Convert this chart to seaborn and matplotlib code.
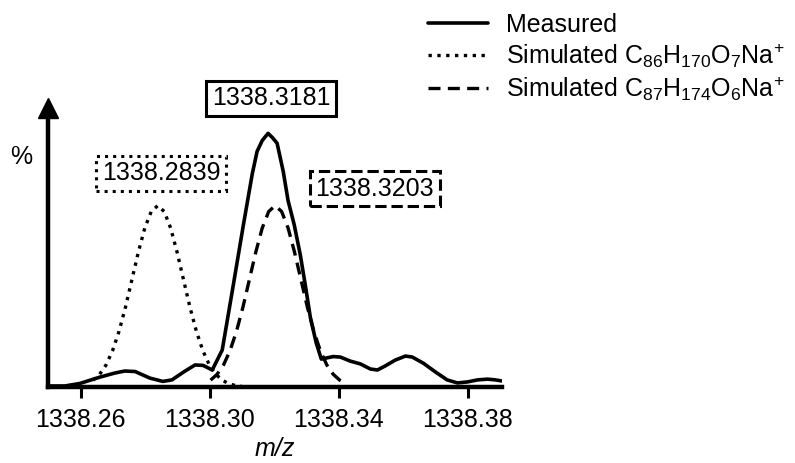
import matplotlib
matplotlib.use("Agg")
import matplotlib.pyplot as plt
import seaborn as sns

# Measured spectrum (m/z, relative intensity %)
measured_mz = [1338.2499, 1338.2551, 1338.2598, 1338.2660, 1338.2706, 1338.2737,
               1338.2769, 1338.2815, 1338.2855, 1338.2883, 1338.2924, 1338.2955,
               1338.2980, 1338.3008, 1338.3039, 1338.3073, 1338.3104, 1338.3132,
               1338.3147, 1338.3163, 1338.3181, 1338.3194, 1338.3209, 1338.3228,
               1338.3243, 1338.3262, 1338.3281, 1338.3296, 1338.3312, 1338.3330,
               1338.3346, 1338.3383, 1338.3405, 1338.3436, 1338.3467, 1338.3498,
               1338.3520, 1338.3544, 1338.3575, 1338.3607, 1338.3628, 1338.3662,
               1338.3700, 1338.3736, 1338.3768, 1338.3799, 1338.3830, 1338.3861,
               1338.3886, 1338.3904]
measured_int = [0.4, 0.4, 1.4, 3.9, 5.5, 6.3,
                6.1, 3.5, 2.2, 2.8, 6.3, 8.7,
                8.5, 6.7, 14.6, 40.0, 63.5, 84.0,
                92.9, 97.2, 100.0, 98.4, 96.1, 85.0,
                73.5, 64.0, 52.0, 40.5, 27.5, 17.5,
                11.0, 12.0, 11.8, 10.2, 9.1, 7.1,
                6.7, 8.3, 10.6, 12.2, 11.8, 9.4,
                5.9, 2.8, 1.6, 2.0, 2.8, 3.1,
                2.8, 2.4]

# Simulated C86H170O7Na+ isotope envelope
sim86_mz = [1338.2639, 1338.2659, 1338.2679, 1338.2699, 1338.2719, 1338.2739,
            1338.2759, 1338.2779, 1338.2799, 1338.2819, 1338.2839, 1338.2859,
            1338.2879, 1338.2899, 1338.2919, 1338.2939, 1338.2959, 1338.2979,
            1338.2999, 1338.3019, 1338.3039, 1338.3059, 1338.3079, 1338.3099]
sim86_int = [2.7, 5.0, 8.7, 14.3, 21.9, 31.4,
             42.3, 53.2, 62.7, 69.2, 71.5, 69.2,
             62.7, 53.2, 42.3, 31.4, 21.9, 14.3,
             8.7, 5.0, 2.7, 1.3, 0.6, 0.3]

# Simulated C87H174O6Na+ isotope envelope
sim87_mz = [1338.3003, 1338.3023, 1338.3043, 1338.3063, 1338.3083, 1338.3103,
            1338.3123, 1338.3143, 1338.3163, 1338.3183, 1338.3203, 1338.3223,
            1338.3243, 1338.3263, 1338.3283, 1338.3303, 1338.3323, 1338.3343,
            1338.3363, 1338.3383, 1338.3403, 1338.3423]
sim87_int = [2.7, 5.0, 8.7, 14.3, 21.9, 31.4,
             42.3, 53.2, 62.7, 69.2, 71.5, 69.2,
             62.7, 53.2, 42.3, 31.4, 21.9, 14.3,
             8.7, 5.0, 2.7, 1.3]

tick_values = [1338.26, 1338.30, 1338.34, 1338.38]
tick_labels = ["1338.26", "1338.30", "1338.34", "1338.38"]

series_labels = ["Measured",
                 r"Simulated C$_{86}$H$_{170}$O$_{7}$Na$^{+}$",
                 r"Simulated C$_{87}$H$_{174}$O$_{6}$Na$^{+}$"]

# Peak annotations: text, position (m/z, %), border style
peak_texts = ["1338.2839", "1338.3181", "1338.3203"]
peak_text_mz = [1338.2849, 1338.3190, 1338.3512]
peak_text_int = [84.3, 113.8, 78.1]
peak_box_styles = [":", "-", "--"]

sns.set_style("ticks")
plt.rcParams.update({
    "font.family": ["Liberation Sans", "DejaVu Sans"],
    "mathtext.fontset": "custom",
    "mathtext.rm": "Liberation Sans",
    "mathtext.it": "Liberation Sans:italic",
    "mathtext.bf": "Liberation Sans:bold",
    "text.color": "black",
    "axes.labelcolor": "black",
    "xtick.color": "black",
    "ytick.color": "black",
    "axes.edgecolor": "black",
})

FS = 18
fig = plt.figure(figsize=(7.95, 4.63), dpi=100)
ax = fig.add_axes([48 / 795, 76 / 463, 454 / 795, 279 / 463])

sns.lineplot(x=measured_mz, y=measured_int, ax=ax, color="black",
             linewidth=2.6, linestyle="-", label=series_labels[0])
sns.lineplot(x=sim86_mz, y=sim86_int, ax=ax, color="black",
             linewidth=2.4, linestyle=":", label=series_labels[1])
sns.lineplot(x=sim87_mz, y=sim87_int, ax=ax, color="black",
             linewidth=2.4, linestyle=(0, (3.6, 2.2)), label=series_labels[2])

ax.set_xlim(1338.2499, 1338.3906)
ax.set_ylim(0, 110)
ax.set_xticks(tick_values)
ax.set_xticklabels(tick_labels)
ax.set_yticks([])
ax.tick_params(axis="x", direction="out", length=8, width=2.2,
               labelsize=FS, pad=7, color="black", labelcolor="black")

for side in ("top", "right"):
    ax.spines[side].set_visible(False)
for side in ("left", "bottom"):
    ax.spines[side].set_linewidth(3.2)
    ax.spines[side].set_color("black")

# arrow head on the intensity axis
ax.plot([0], [1], marker="^", ms=14, color="black",
        transform=ax.transAxes, clip_on=False)

ax.set_xlabel("m/z", fontsize=FS, fontstyle="italic", labelpad=4)
ax.set_ylabel("%", fontsize=FS, rotation=0, ha="center", va="center")
ax.yaxis.set_label_coords(-0.0595, 0.824)

for txt, xm, yi, ls in zip(peak_texts, peak_text_mz, peak_text_int, peak_box_styles):
    ax.text(xm, yi, txt, ha="center", va="center", fontsize=FS, color="black",
            bbox=dict(boxstyle="square,pad=0.22", fc="white", ec="black",
                      lw=2.2, ls=ls), zorder=5, clip_on=False)

ax.legend(loc="upper left", bbox_to_anchor=(428 / 795, 1 - 13 / 463),
          bbox_transform=fig.transFigure, frameon=False, fontsize=FS,
          handlelength=2.4, handletextpad=0.7, labelspacing=0.18,
          borderpad=0, borderaxespad=0, labelcolor="black")

fig.savefig("out.png", dpi=100, facecolor="white")
